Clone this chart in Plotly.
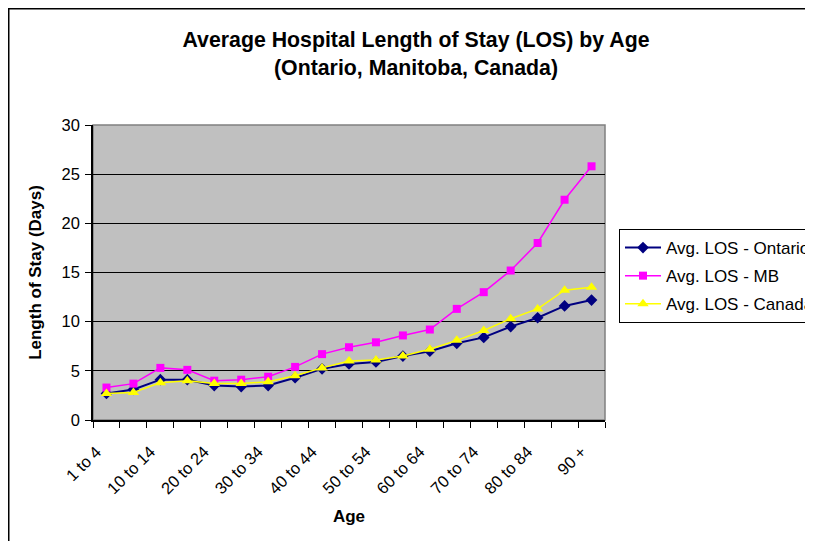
import plotly.graph_objects as go

categories = ["1 to 4", "5 to 9", "10 to 14", "15 to 19", "20 to 24", "25 to 29",
              "30 to 34", "35 to 39", "40 to 44", "45 to 49", "50 to 54", "55 to 59",
              "60 to 64", "65 to 69", "70 to 74", "75 to 79", "80 to 84", "85 to 89", "90 +"]
ontario = [2.7, 3.1, 4.1, 4.1, 3.5, 3.4, 3.5, 4.3, 5.2, 5.7, 5.9, 6.5, 7.0, 7.8, 8.4, 9.5, 10.4, 11.6, 12.2]
mb = [3.3, 3.7, 5.3, 5.1, 4.0, 4.1, 4.4, 5.4, 6.7, 7.4, 7.9, 8.6, 9.2, 11.3, 13.0, 15.2, 18.0, 22.4, 25.8]
canada = [2.7, 2.8, 3.8, 4.0, 3.7, 3.7, 3.9, 4.5, 5.3, 6.0, 6.1, 6.5, 7.2, 8.1, 9.1, 10.3, 11.3, 13.2, 13.5]
tick_text = [c if i % 2 == 0 else "" for i, c in enumerate(categories)]
y_ticks = [0, 5, 10, 15, 20, 25, 30]

FONT = "Liberation Sans, Arial, sans-serif"

fig = go.Figure()
fig.add_trace(go.Scatter(x=categories, y=ontario, mode="lines+markers",
                         name="Avg. LOS - Ontario", legendgroup="a",
                         line=dict(color="#000080", width=2),
                         marker=dict(symbol="diamond", size=9, color="#000080")))
fig.add_trace(go.Scatter(x=categories, y=mb, mode="lines+markers",
                         name="Avg. LOS - MB", legendgroup="b",
                         line=dict(color="#FF00FF", width=1.5),
                         marker=dict(symbol="square", size=8, color="#FF00FF")))
fig.add_trace(go.Scatter(x=categories, y=canada, mode="lines+markers",
                         name="Avg. LOS - Canada", legendgroup="c",
                         line=dict(color="#FFFF00", width=1.5),
                         marker=dict(symbol="triangle-up", size=10, color="#FFFF00")))

# page offset of the plot div (browser body margin)
OFF = 8
W, H = 813 - OFF, 541 - OFF
L, R, T, B = 93 - OFF, 605 - OFF, 125 - OFF, 420 - OFF
pw, ph = R - L, B - T

def px(x):
    return (x - OFF - L) / pw

def py(y):
    return (B - (y - OFF)) / ph

fig.update_layout(
    width=W, height=H,
    margin=dict(l=L, r=W - R, t=T, b=H - B, autoexpand=False),
    paper_bgcolor="white",
    plot_bgcolor="#C0C0C0",
    font=dict(family=FONT, color="black", size=16),
    title=dict(text="<b>Average Hospital Length of Stay (LOS) by Age<br>(Ontario, Manitoba, Canada)</b>",
               font=dict(family=FONT, size=21.3, color="black"),
               xref="paper", x=px(416), xanchor="center",
               yref="container", y=1 - (47 - OFF) / H, yanchor="top"),
    xaxis=dict(type="category", range=[-0.5, len(categories) - 0.5],
               tickmode="array", tickvals=categories, ticktext=tick_text,
               tickson="boundaries", ticks="outside", ticklen=6, tickcolor="black",
               tickangle=-45, tickfont=dict(size=16.5),
               ticklabelshift=-10, ticklabelstandoff=14,
               showline=True, linecolor="black", linewidth=1.5,
               showgrid=False, zeroline=False,
               title=dict(text="<b>Age</b>", font=dict(size=17), standoff=14)),
    yaxis=dict(range=[0, 30], tickmode="array", tickvals=y_ticks,
               ticks="outside", ticklen=6, tickcolor="black", tickfont=dict(size=16.5),
               ticklabelstandoff=2,
               showline=True, linecolor="black", linewidth=1.5,
               showgrid=True, gridcolor="black", gridwidth=1, zeroline=False,
               title=dict(text="<b>Length of Stay (Days)</b>", font=dict(size=17), standoff=16)),
    legend=dict(x=px(619), y=py(229), xanchor="left", yanchor="top",
                bgcolor="white", bordercolor="black", borderwidth=1,
                font=dict(size=17), traceorder="grouped", tracegroupgap=3,
                itemwidth=36),
    showlegend=True,
    shapes=[
        dict(type="rect", xref="paper", yref="paper", x0=0, x1=1, y0=0, y1=1,
             line=dict(color="#808080", width=1.5), layer="between"),
        dict(type="rect", xref="paper", yref="paper",
             x0=px(OFF + 0.5), x1=px(830), y0=py(560), y1=py(OFF + 0.5),
             line=dict(color="black", width=2), layer="above"),
    ],
)

fig.write_html("out.html")
